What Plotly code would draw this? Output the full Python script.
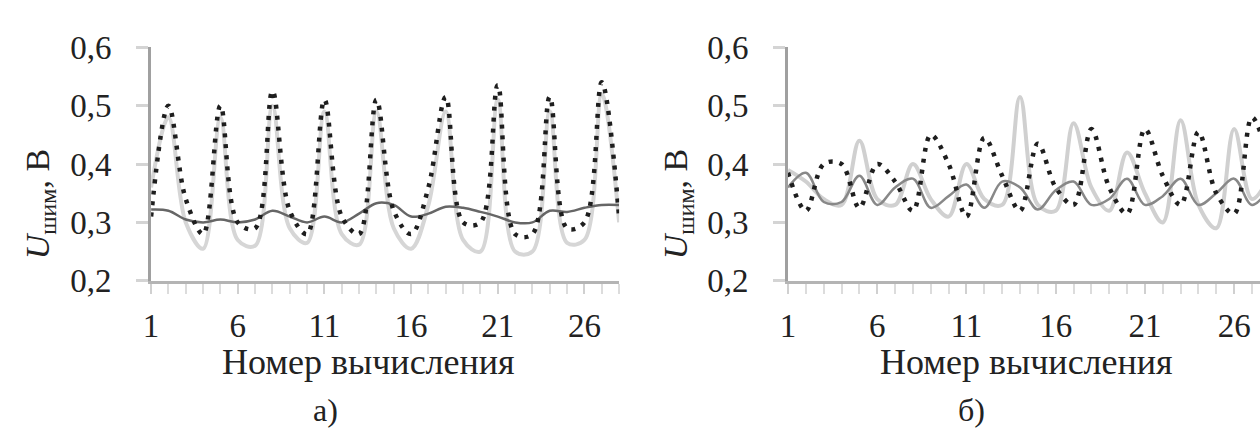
import plotly.graph_objects as go

# Calculation index (1..28)
steps = list(range(1, 29))

# Panel а) voltages, V
a_dotted = [0.31, 0.50, 0.34, 0.28, 0.50, 0.30, 0.29, 0.525, 0.32, 0.28,
            0.51, 0.31, 0.28, 0.51, 0.32, 0.28, 0.36, 0.515, 0.30, 0.30,
            0.535, 0.28, 0.28, 0.515, 0.29, 0.30, 0.54, 0.31]
a_solid = [0.322, 0.32, 0.305, 0.30, 0.305, 0.30, 0.305, 0.32, 0.31, 0.30,
           0.31, 0.30, 0.315, 0.333, 0.33, 0.31, 0.315, 0.327, 0.325, 0.318,
           0.31, 0.30, 0.30, 0.32, 0.318, 0.325, 0.33, 0.33]
a_light = [0.36, 0.48, 0.30, 0.255, 0.48, 0.27, 0.26, 0.50, 0.29, 0.265,
           0.49, 0.28, 0.262, 0.49, 0.29, 0.255, 0.33, 0.49, 0.27, 0.25,
           0.51, 0.25, 0.25, 0.49, 0.265, 0.27, 0.52, 0.30]

# Panel б) voltages, V
b_dotted = [0.385, 0.32, 0.40, 0.40, 0.325, 0.40, 0.37, 0.32, 0.45, 0.40,
            0.31, 0.445, 0.38, 0.32, 0.435, 0.36, 0.33, 0.46, 0.36, 0.315,
            0.46, 0.38, 0.33, 0.455, 0.35, 0.315, 0.48, 0.40]
b_solid = [0.36, 0.385, 0.335, 0.335, 0.38, 0.33, 0.36, 0.375, 0.325, 0.345,
           0.365, 0.325, 0.37, 0.36, 0.322, 0.355, 0.37, 0.33, 0.34, 0.375,
           0.33, 0.345, 0.375, 0.33, 0.35, 0.375, 0.33, 0.36]
b_light = [0.39, 0.37, 0.34, 0.33, 0.44, 0.34, 0.33, 0.40, 0.34, 0.31,
           0.40, 0.34, 0.33, 0.515, 0.33, 0.32, 0.47, 0.36, 0.32, 0.42,
           0.35, 0.30, 0.475, 0.33, 0.29, 0.46, 0.34, 0.38]

x_ticks = [1, 6, 11, 16, 21, 26]
y_ticks = [0.2, 0.3, 0.4, 0.5, 0.6]
x_title = "Номер вычисления"
y_title = "<i>U</i><sub>шим</sub>, В"
panel_labels = ["а)", "б)"]

W, H = 1260, 445
FONT = "Liberation Serif, Times New Roman, serif"
TXT = "#222222"

fig = go.Figure()


def add_panel(xa, ya, light, solid, dotted, light_col, solid_col):
    fig.add_trace(go.Scatter(x=steps, y=light, xaxis=xa, yaxis=ya, mode="lines",
                             line=dict(color=light_col, width=4, shape="spline", smoothing=1),
                             showlegend=False))
    fig.add_trace(go.Scatter(x=steps, y=solid, xaxis=xa, yaxis=ya, mode="lines",
                             line=dict(color=solid_col, width=2.5, shape="spline", smoothing=1),
                             showlegend=False))
    fig.add_trace(go.Scatter(x=steps, y=dotted, xaxis=xa, yaxis=ya, mode="lines",
                             line=dict(color="#1e1e1e", width=4.5, dash="4px,7px",
                                       shape="spline", smoothing=1),
                             showlegend=False))


add_panel("x", "y", a_light, a_solid, a_dotted, "#d6d6d6", "#666666")
add_panel("x2", "y2", b_light, b_solid, b_dotted, "#d0d0d0", "#888888")

y_dom = [1 - 287 / H, 1 - 33 / H]

xaxis_common = dict(
    tickmode="array", tickvals=x_ticks, ticktext=[str(v) for v in x_ticks],
    showline=True, linecolor="#b4b4b4", linewidth=3,
    ticks="outside", ticklen=10, tickcolor="#d0d0d0", tickwidth=2,
    minor=dict(dtick=1, tick0=1, ticks="outside", ticklen=10, tickcolor="#dcdcdc", tickwidth=2),
    showgrid=False, zeroline=False,
    tickfont=dict(family=FONT, size=33, color=TXT),
    ticklabelstandoff=4,
)
yaxis_common = dict(
    range=[0.2, 0.6], tickmode="array", tickvals=y_ticks,
    tickformat=".1f",
    showline=True, linecolor="#a0a0a0", linewidth=3,
    ticks="outside", ticklen=12, tickcolor="#d4d4d4", tickwidth=3,
    showgrid=False, zeroline=False,
    tickfont=dict(family=FONT, size=33, color=TXT),
    ticklabelstandoff=18,
)

fig.update_layout(
    width=W, height=H, autosize=False,
    margin=dict(l=0, r=0, t=0, b=0),
    paper_bgcolor="white", plot_bgcolor="white",
    separators=", ",
    xaxis=dict(domain=[144 / W, 615 / W], range=[1, 28], anchor="y", **xaxis_common),
    yaxis=dict(domain=y_dom, anchor="x", **yaxis_common),
    xaxis2=dict(domain=[785 / W, 1.0], range=[1, 27.45], anchor="y2", **xaxis_common),
    yaxis2=dict(domain=y_dom, anchor="x2", **yaxis_common),
)

# Axis titles
for cx_title, cy_lab in [(363, 33), (1025, 675)]:
    fig.add_annotation(x=cx_title / W, y=1 - 375 / H, xref="paper", yref="paper",
                       text=x_title, showarrow=False,
                       font=dict(family=FONT, size=36, color=TXT),
                       xanchor="center", yanchor="middle")
    fig.add_annotation(x=cy_lab / W, y=1 - 204 / H, xref="paper", yref="paper",
                       text=y_title, showarrow=False, textangle=-90,
                       font=dict(family=FONT, size=34, color=TXT),
                       xanchor="center", yanchor="middle")
# Panel captions
for cap, cap_x in zip(panel_labels, [320, 970]):
    fig.add_annotation(x=cap_x / W, y=1 - 428 / H, xref="paper", yref="paper",
                       text=cap, showarrow=False,
                       font=dict(family=FONT, size=32, color=TXT),
                       xanchor="center", yanchor="middle")

fig.write_html("out.html")
